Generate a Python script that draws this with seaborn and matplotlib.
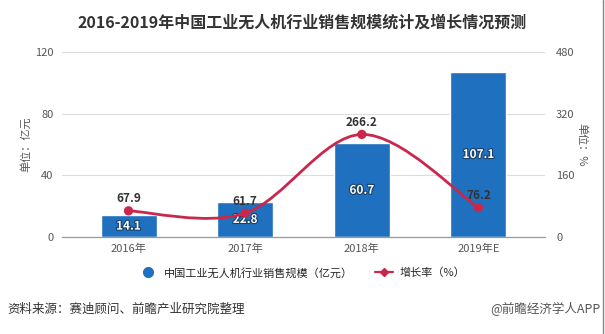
import matplotlib
matplotlib.use("Agg")
import matplotlib.pyplot as plt
import matplotlib.patheffects as pe
from matplotlib.path import Path
from matplotlib.patches import PathPatch
from matplotlib.lines import Line2D
import numpy as np
import pandas as pd
import seaborn as sns

categories = ["2016年", "2017年", "2018年", "2019年E"]
sales = [14.1, 22.8, 60.7, 107.1]
growth = [67.9, 61.7, 266.2, 76.2]
left_ticks = [0, 40, 80, 120]
right_ticks = [0, 160, 320, 480]

sns.set_theme(style="white")
plt.rcParams['font.family'] = ['Noto Sans CJK SC', 'DejaVu Sans']
plt.rcParams['axes.unicode_minus'] = False

BLUE = "#1f70be"
RED = "#c9284c"
GRAY = "#555555"

fig = plt.figure(figsize=(6.05, 3.34), dpi=100)
ax = fig.add_axes([0.1025, 0.2904, 0.7983, 0.5539])

df = pd.DataFrame({"cat": categories, "sales": sales, "growth": growth})
sns.barplot(data=df, x="cat", y="sales", color=BLUE, width=0.48, ax=ax, saturation=1)
ax.set_xlim(-0.57, 3.57)
ax.set_ylim(0, 120)
ax.set_yticks(left_ticks)
ax.yaxis.grid(True, color="#dddddd", linewidth=0.8)
ax.set_axisbelow(True)
for s in ["left", "right", "top"]:
    ax.spines[s].set_visible(False)
ax.spines["bottom"].set_color("#999999")
ax.spines["bottom"].set_linewidth(0.9)
ax.tick_params(axis="y", length=0, labelsize=8, colors=GRAY, pad=6)
ax.tick_params(axis="x", length=0, labelsize=8, colors=GRAY, pad=5)
ax.set_xlabel("")
ax.set_ylabel("单位：亿元", fontsize=8, color=GRAY, labelpad=3)

for i, v in enumerate(sales):
    ax.text(i, v / 2, f"{v:.1f}", ha="center", va="center", fontsize=8.5,
            fontweight="bold", color="white",
            path_effects=[pe.withStroke(linewidth=1.6, foreground="#1a3f66")])

ax2 = ax.twinx()
ax2.set_ylim(0, 480)
ax2.set_yticks(right_ticks)
for s in ["left", "right", "top", "bottom"]:
    ax2.spines[s].set_visible(False)
ax2.tick_params(axis="y", length=0, labelsize=8, colors=GRAY, pad=8)
ax2.set_ylabel("单位：%", fontsize=8, color=GRAY, rotation=-90, labelpad=9)

# smooth curve through data points (Catmull-Rom as Bezier path)
xs = np.arange(len(growth), dtype=float)
ys = np.array(growth, dtype=float)
px = np.concatenate([[xs[0]], xs, [xs[-1]]])
py = np.concatenate([[ys[0]], ys, [ys[-1]]])
verts = [(xs[0], ys[0])]
codes = [Path.MOVETO]
for i in range(1, len(px) - 2):
    c1 = (px[i] + (px[i + 1] - px[i - 1]) / 6, py[i] + (py[i + 1] - py[i - 1]) / 6)
    c2 = (px[i + 1] - (px[i + 2] - px[i]) / 6, py[i + 1] - (py[i + 2] - py[i]) / 6)
    verts += [c1, c2, (px[i + 1], py[i + 1])]
    codes += [Path.CURVE4] * 3
ax2.add_patch(PathPatch(Path(verts, codes), facecolor="none", edgecolor=RED, lw=2))
sns.scatterplot(x=xs, y=ys, ax=ax2, color=RED, s=45, edgecolor="none", zorder=5)
ax2.set_xlim(-0.57, 3.57)

for i, v in enumerate(growth):
    ax2.text(i, v + 14, f"{v:.1f}", ha="center", va="bottom", fontsize=8.5,
             fontweight="bold", color="#333333")

fig.text(0.5, 0.932, "2016-2019年中国工业无人机行业销售规模统计及增长情况预测",
         ha="center", va="center", fontsize=11.5, fontweight="bold", color="#333333")

handles = [
    Line2D([], [], marker="o", color=BLUE, linestyle="none", markersize=7),
    Line2D([], [], marker="D", color=RED, linestyle="-", lw=1.6, markersize=4),
]
fig.legend(handles, ["中国工业无人机行业销售规模（亿元）", "增长率（%）"],
           loc="center", bbox_to_anchor=(0.5, 0.183), ncol=2, frameon=False,
           fontsize=8, handlelength=1.6, columnspacing=2.0, handletextpad=0.6)

fig.text(0.012, 0.075, "资料来源：赛迪顾问、前瞻产业研究院整理", ha="left", va="center",
         fontsize=9, color="#333333")
fig.text(0.993, 0.075, "@前瞻经济学人APP", ha="right", va="center",
         fontsize=9, color="#555555")

fig.add_artist(Line2D([0.997, 0.997], [0, 1], transform=fig.transFigure,
                      color="#888888", lw=1))

fig.savefig("out.png", dpi=100)
